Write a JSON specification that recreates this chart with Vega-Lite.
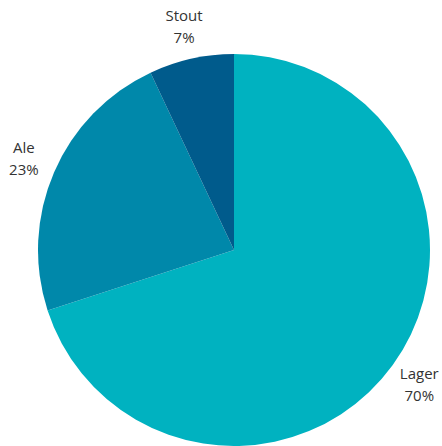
{
  "$schema": "https://vega.github.io/schema/vega-lite/v6.json",
  "width": 392,
  "height": 392,
  "autosize": "none",
  "padding": {"left": 38, "top": 54, "right": 12, "bottom": 0},
  "background": "white",
  "data": {
    "values": [
      {"beer": "Lager", "share": 70, "pct": "70%", "ord": 1},
      {"beer": "Ale", "share": 23, "pct": "23%", "ord": 2},
      {"beer": "Stout", "share": 7, "pct": "7%", "ord": 3}
    ]
  },
  "encoding": {
    "theta": {"field": "share", "type": "quantitative", "stack": true},
    "order": {"field": "ord", "type": "quantitative"}
  },
  "layer": [
    {
      "mark": {"type": "arc", "outerRadius": 196, "strokeWidth": 0},
      "encoding": {
        "color": {
          "field": "beer",
          "type": "nominal",
          "scale": {"domain": ["Lager", "Ale", "Stout"], "range": ["#00B2C0", "#0088AA", "#005B8C"]},
          "legend": null
        }
      }
    },
    {
      "mark": {"type": "text", "radius": 229, "dy": -11, "fontSize": 15, "font": "Open Sans", "color": "#333333", "align": "center", "baseline": "middle"},
      "encoding": {"text": {"field": "beer"}}
    },
    {
      "mark": {"type": "text", "radius": 229, "dy": 11, "fontSize": 15, "font": "Open Sans", "color": "#333333", "align": "center", "baseline": "middle"},
      "encoding": {"text": {"field": "pct"}}
    }
  ]
}
